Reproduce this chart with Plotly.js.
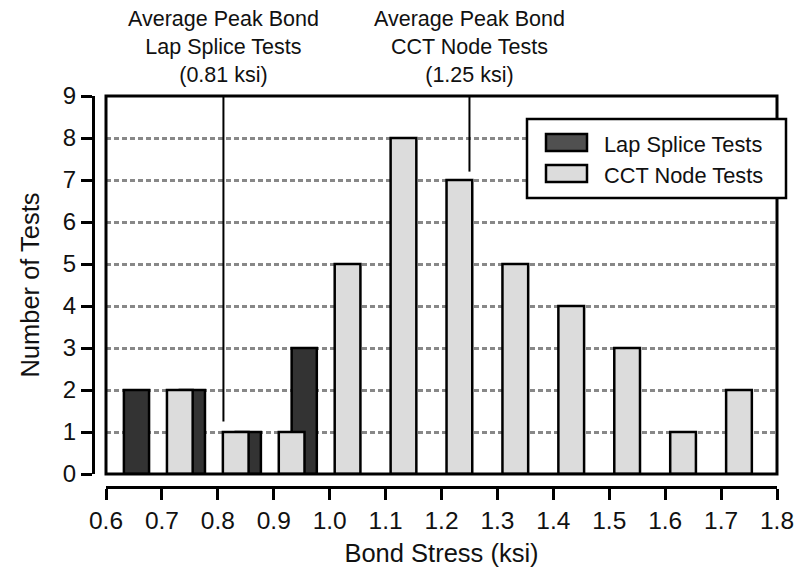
<!DOCTYPE html>
<html>
<head>
<meta charset="utf-8">
<script src="https://cdn.plot.ly/plotly-3.0.1.min.js"></script>
<style>html,body{margin:0;padding:0;background:#fff;}#chart{width:794px;height:573px;}</style>
</head>
<body>
<div id="chart"></div>
<script>
// Data (bin centres in ksi, counts)
const lapBins = [0.65, 0.75, 0.85, 0.95];
const lapCounts = [2, 2, 1, 3];
const cctBins = [0.75, 0.85, 0.95, 1.05, 1.15, 1.25, 1.35, 1.45, 1.55, 1.65, 1.75];
const cctCounts = [2, 1, 1, 5, 8, 7, 5, 4, 3, 1, 2];
const seriesNames = ["Lap Splice Tests", "CCT Node Tests"];
const avgLap = 0.81;
const avgCct = 1.25;
const avgLabels = ["Average Peak Bond<br>Lap Splice Tests<br>(0.81 ksi)", "Average Peak Bond<br>CCT Node Tests<br>(1.25 ksi)"];
const xTicks = [0.6, 0.7, 0.8, 0.9, 1.0, 1.1, 1.2, 1.3, 1.4, 1.5, 1.6, 1.7, 1.8];
const yTicks = [0, 1, 2, 3, 4, 5, 6, 7, 8, 9];

const W = 794, H = 573;
const M = {l: 93, r: 17, t: 96, b: 86};
const PW = W - M.l - M.r, PH = H - M.t - M.b;
const px = v => (v - M.l) / PW;
const py = v => (H - M.b - v) / PH;

const FONT = 'Liberation Sans, Arial, sans-serif';
const DARK = '#333333', LIGHT = '#dcdcdc';

const traces = [
  {type: 'bar', x: lapBins, y: lapCounts, name: seriesNames[0], width: 0.045, offset: -0.018,
   marker: {color: DARK, line: {color: '#000', width: 2.5}}, showlegend: false},
  {type: 'bar', x: cctBins, y: cctCounts, name: seriesNames[1], width: 0.046, offset: -0.041,
   marker: {color: LIGHT, line: {color: '#000', width: 2.5}}, showlegend: false}
];

const xDom0 = px(106), yDom0 = py(474);

const shapes = [
  // plot frame
  {type: 'rect', xref: 'paper', yref: 'paper', x0: xDom0, x1: 1, y0: yDom0, y1: 1, line: {color: '#000', width: 3}, layer: 'above'},
  // average lines
  {type: 'line', xref: 'x', yref: 'y', x0: avgLap, x1: avgLap, y0: 1.25, y1: 9, line: {color: '#000', width: 2}},
  {type: 'line', xref: 'x', yref: 'y', x0: avgCct, x1: avgCct, y0: 7.2, y1: 9, line: {color: '#000', width: 2}},
  // legend box
  {type: 'rect', xref: 'paper', yref: 'paper', x0: px(527), x1: px(786), y0: py(198), y1: py(119),
   fillcolor: '#fff', line: {color: '#000', width: 2.5}, layer: 'above'},
  {type: 'rect', xref: 'paper', yref: 'paper', x0: px(546), x1: px(587), y0: py(151), y1: py(134),
   fillcolor: '#505050', line: {color: '#000', width: 2.5}, layer: 'above'},
  {type: 'rect', xref: 'paper', yref: 'paper', x0: px(546), x1: px(587), y0: py(182), y1: py(165),
   fillcolor: LIGHT, line: {color: '#000', width: 2.5}, layer: 'above'}
];

const annotations = [
  {xref: 'x', yref: 'paper', x: avgLap, y: py(5), yanchor: 'top', xanchor: 'center', showarrow: false,
   text: avgLabels[0], font: {family: FONT, size: 21.5, color: '#111'}, align: 'center'},
  {xref: 'x', yref: 'paper', x: avgCct, y: py(5), yanchor: 'top', xanchor: 'center', showarrow: false,
   text: avgLabels[1], font: {family: FONT, size: 21.5, color: '#111'}, align: 'center'},
  {xref: 'paper', yref: 'paper', x: px(602), y: py(144), xanchor: 'left', yanchor: 'middle', showarrow: false,
   text: seriesNames[0], font: {family: FONT, size: 21.8, color: '#111'}},
  {xref: 'paper', yref: 'paper', x: px(602), y: py(175), xanchor: 'left', yanchor: 'middle', showarrow: false,
   text: seriesNames[1], font: {family: FONT, size: 21.8, color: '#111'}}
];

const layout = {
  width: W, height: H,
  margin: M,
  paper_bgcolor: '#fff', plot_bgcolor: 'rgba(0,0,0,0)',
  barmode: 'overlay',
  showlegend: false,
  font: {family: FONT, color: '#111'},
  xaxis: {
    domain: [xDom0, 1], range: [0.6, 1.8], anchor: 'free', position: 0,
    tickvals: xTicks, ticktext: xTicks.map(v => v.toFixed(1)),
    ticklabeloverflow: 'allow',
    ticks: 'outside', ticklen: 11, tickwidth: 3, tickcolor: '#000',
    showline: true, linewidth: 3, linecolor: '#000',
    showgrid: false, zeroline: false,
    tickfont: {family: FONT, size: 24.5, color: '#111'},
    title: {text: 'Bond Stress (ksi)', font: {family: FONT, size: 25.5, color: '#111'}, standoff: 10}
  },
  yaxis: {
    domain: [yDom0, 1], range: [0, 9], anchor: 'free', position: 0,
    tickvals: yTicks,
    ticks: 'outside', ticklen: 11, tickwidth: 3, tickcolor: '#000',
    showline: true, linewidth: 3, linecolor: '#000',
    showgrid: true, gridcolor: '#888', gridwidth: 3, griddash: '5px,3px',
    zeroline: false,
    tickfont: {family: FONT, size: 24, color: '#111'},
    title: {text: 'Number of Tests', font: {family: FONT, size: 25.5, color: '#111'}, standoff: 14}
  },
  shapes: shapes,
  annotations: annotations
};

Plotly.newPlot('chart', traces, layout, {displayModeBar: false, staticPlot: true});
</script>
</body>
</html>
